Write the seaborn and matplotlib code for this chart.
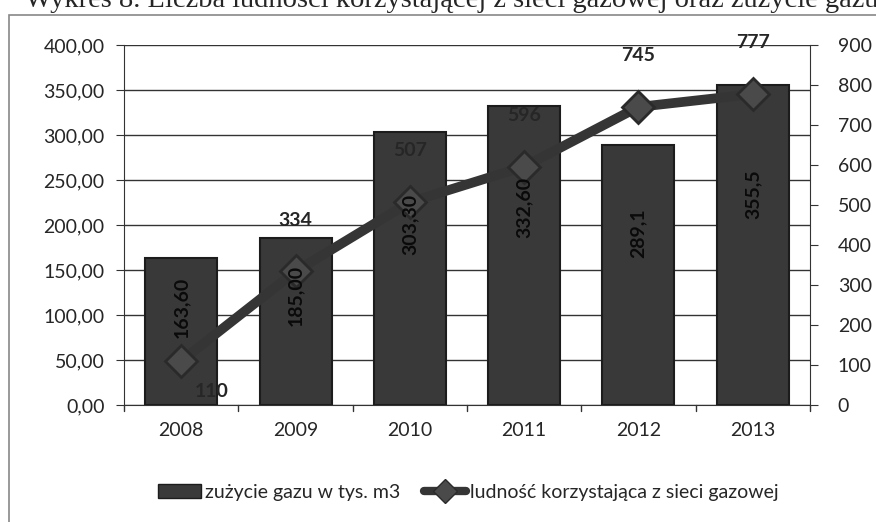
import matplotlib
matplotlib.use("Agg")
import matplotlib.pyplot as plt
import matplotlib.patches as mpatches
from matplotlib.lines import Line2D
import seaborn as sns
import pandas as pd

# dane z wykresu
lata = ["2008", "2009", "2010", "2011", "2012", "2013"]
zuzycie_gazu = [163.60, 185.00, 303.30, 332.60, 289.1, 355.5]
zuzycie_etykiety = ["163,60", "185,00", "303,30", "332,60", "289,1", "355,5"]
ludnosc = [110, 334, 507, 596, 745, 777]
lewa_os = ["0,00", "50,00", "100,00", "150,00", "200,00", "250,00", "300,00", "350,00", "400,00"]
prawa_os = [0, 100, 200, 300, 400, 500, 600, 700, 800, 900]

df = pd.DataFrame({"rok": lata, "gaz": zuzycie_gazu, "ludnosc": ludnosc})

sns.set_style("white")
plt.rcParams["font.family"] = ["Lato", "DejaVu Sans"]

fig = plt.figure(figsize=(8.76, 5.22), dpi=100)
ax = fig.add_axes([0.1416, 0.224, 0.783, 0.690])

sns.barplot(data=df, x="rok", y="gaz", color="#393939", width=0.63,
            edgecolor="#1c1c1c", linewidth=1.5, saturation=1, ax=ax, zorder=3)

ax.set_ylim(0, 400)
ax.set_yticks([50 * i for i in range(len(lewa_os))])
ax.set_yticklabels(lewa_os, fontsize=14)
ax.set_xlim(-0.5, len(lata) - 0.5)
ax.set_xticks(range(len(lata)))
ax.set_xticklabels(lata, fontsize=14)
ax.set_xlabel("")
ax.set_ylabel("")
ax.yaxis.grid(True, color="#333333", linewidth=1.0)
ax.set_axisbelow(True)
ax.tick_params(axis="x", length=0, pad=12)
ax.tick_params(axis="y", direction="out", length=6, color="#333333", left=True, pad=8)
# znaczniki między kategoriami
for i in range(len(lata) + 1):
    ax.plot([i - 0.5, i - 0.5], [0, -7], color="#333333", lw=1, clip_on=False, zorder=1)
for s in ["top", "right"]:
    ax.spines[s].set_visible(False)
for s in ["left", "bottom"]:
    ax.spines[s].set_color("#333333")

ax2 = ax.twinx()
sns.pointplot(data=df, x="rok", y="ludnosc", color="#353535", markers="D",
              linestyles="-", ax=ax2, zorder=5)
for l in ax2.lines:
    l.set_linewidth(7)
    l.set_markersize(16)
    l.set_markerfacecolor("#4a4a4a")
    l.set_markeredgecolor("#2a2a2a")
ax2.set_ylim(0, 900)
ax2.set_xlim(-0.5, len(lata) - 0.5)
ax2.set_yticks(prawa_os)
ax2.set_yticklabels([str(v) for v in prawa_os], fontsize=14)
ax2.set_ylabel("")
ax2.set_xlabel("")
ax2.tick_params(axis="y", direction="out", length=6, color="#333333", right=True, pad=14)
for s in ["top", "left", "bottom"]:
    ax2.spines[s].set_visible(False)
ax2.spines["right"].set_color("#333333")

# etykiety słupków nad linią
for i, (v, lab) in enumerate(zip(zuzycie_gazu, zuzycie_etykiety)):
    ax2.text(i, v * 0.66, lab, rotation=90, ha="center", va="center", transform=ax.transData,
             fontsize=14, fontweight="bold", color="#0a0a0a", zorder=8)

for i, v in enumerate(ludnosc):
    if i == 0:
        ax2.annotate(str(v), (i, v), xytext=(22, -22), textcoords="offset points",
                     ha="center", va="center", fontsize=14, fontweight="bold", zorder=8)
    else:
        ax2.annotate(str(v), (i, v), xytext=(0, 37), textcoords="offset points",
                     ha="center", va="center", fontsize=14, fontweight="bold", zorder=8)

# tytuł (obcięty u góry jak w skanie)
fig.text(0.028, 0.986, "Wykres 8. Liczba ludności korzystającej z sieci gazowej oraz zużycie gazu",
         fontsize=20.5, family="Liberation Serif", va="baseline", ha="left")

# ramka wykresu
fig.patches.append(mpatches.Rectangle((0.010, -0.1), 1.1, 1.071, transform=fig.transFigure,
                                      fill=False, edgecolor="#888888", linewidth=1.2))

uchwyty = [
    mpatches.Patch(facecolor="#393939", edgecolor="#1c1c1c", label="zużycie gazu w tys. m3"),
    Line2D([0], [0], color="#353535", lw=6, marker="D", markersize=12,
           markerfacecolor="#4a4a4a", markeredgecolor="#2a2a2a",
           label="ludność korzystająca z sieci gazowej"),
]
fig.legend(handles=uchwyty, loc="center", bbox_to_anchor=(0.535, 0.057), ncol=2,
           frameon=False, fontsize=14, handlelength=2.2, handletextpad=0.2, columnspacing=1.2)

fig.savefig("out.png", dpi=100)
